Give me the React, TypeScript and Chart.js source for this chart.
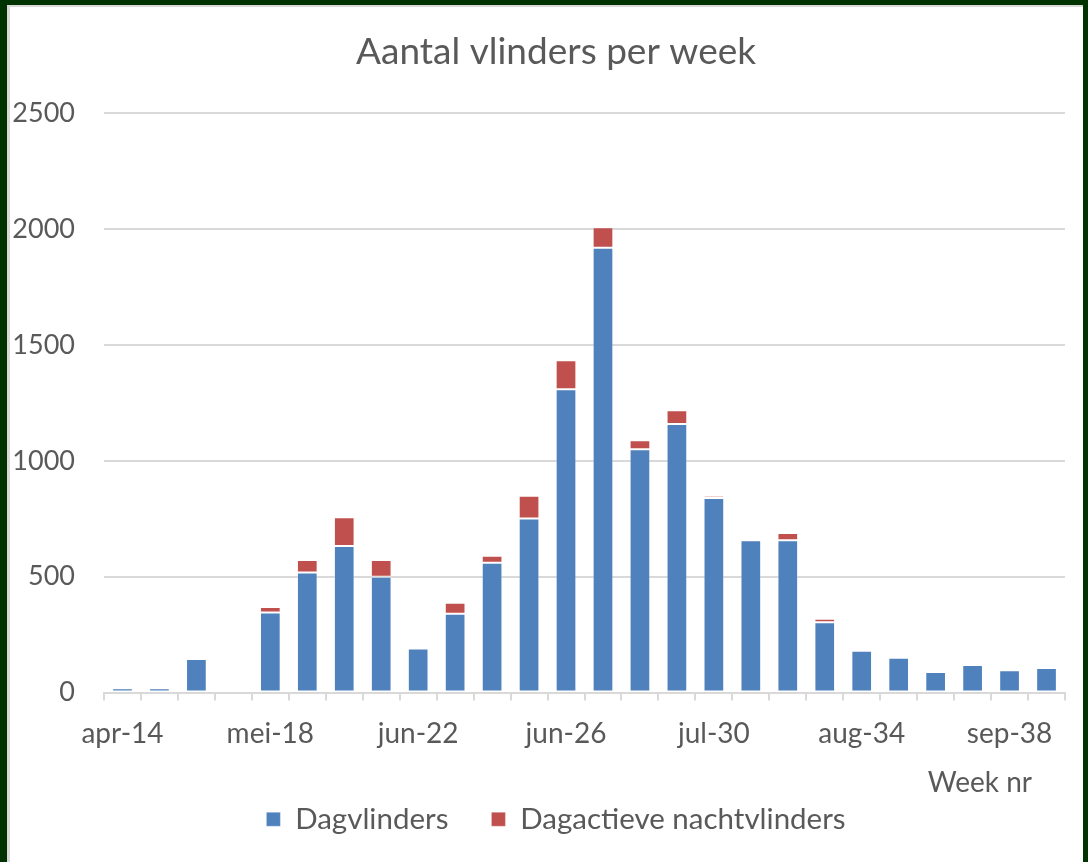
import React, { useEffect, useRef } from "react";
import { Chart, registerables } from "chart.js";

Chart.register(...registerables);

const weekLabels = [
  "apr-14", "apr-15", "apr-16", "apr-17",
  "mei-18", "mei-19", "mei-20", "mei-21",
  "jun-22", "jun-23", "jun-24", "jun-25", "jun-26",
  "jul-27", "jul-28", "jul-29", "jul-30",
  "aug-31", "aug-32", "aug-33", "aug-34",
  "sep-35", "sep-36", "sep-37", "sep-38", "sep-39",
];

const dagvlinders = [18, 18, 145, 0, 345, 518, 632, 500, 190, 340, 560, 751, 1309, 1920, 1050, 1159, 840, 657, 657, 303, 180, 150, 89, 119, 96, 106];
const nachtvlinders = [0, 0, 0, 0, 24, 54, 125, 72, 7, 47, 30, 98, 125, 89, 39, 59, 9, 6, 32, 15, 5, 0, 0, 6, 6, 6];

const yTicks = [0, 500, 1000, 1500, 2000, 2500];

const FONT = "Lato, 'Open Sans', sans-serif";
const TEXT = "#595959";

export default function App() {
  const ref = useRef<HTMLCanvasElement>(null);

  useEffect(() => {
    document.body.style.margin = "0";
    const canvas = ref.current;
    if (!canvas) return;

    const weekNrPlugin = {
      id: "weekNr",
      afterDraw(chart: any) {
        const x = chart.scales.x;
        const ctx = chart.ctx;
        ctx.save();
        ctx.font = `28px ${FONT}`;
        ctx.fillStyle = TEXT;
        ctx.textAlign = "right";
        ctx.textBaseline = "middle";
        ctx.fillText("Week nr", chart.chartArea.right - 33, x.bottom + 21);
        ctx.restore();
      },
    };

    const chart = new Chart(canvas, {
      type: "bar",
      data: {
        labels: weekLabels,
        datasets: [
          {
            label: "Dagvlinders",
            data: dagvlinders,
            backgroundColor: "#4F81BD",
            borderColor: "rgba(255,255,255,0.3)",
            borderWidth: 1,
            borderSkipped: false,
          },
          {
            label: "Dagactieve nachtvlinders",
            data: nachtvlinders,
            backgroundColor: "#C0504D",
            borderColor: "rgba(255,255,255,0.3)",
            borderWidth: 1,
            borderSkipped: false,
          },
        ],
      },
      options: {
        animation: false,
        responsive: false,
        maintainAspectRatio: false,
        layout: { padding: { left: 0, right: 0, top: 30, bottom: 18 } },
        datasets: {
          bar: { categoryPercentage: 1, barPercentage: 0.56 },
        },
        plugins: {
          title: {
            display: true,
            text: "Aantal vlinders per week",
            color: TEXT,
            font: { family: FONT, size: 37, weight: "normal" },
            padding: { top: 0, bottom: 39 },
          },
          legend: {
            position: "bottom",
            labels: {
              color: TEXT,
              font: { family: FONT, size: 29.5 },
              boxWidth: 14,
              boxHeight: 14,
              padding: 43,
              useBorderRadius: false,
            },
          },
          tooltip: { enabled: false },
        },
        scales: {
          x: {
            stacked: true,
            afterFit: (scale: any) => {
              scale.height = 69;
            },
            grid: {
              offset: true,
              drawOnChartArea: false,
              drawTicks: true,
              tickLength: 8,
              color: "#D9D9D9",
              lineWidth: 2,
            },
            border: { color: "#D9D9D9", width: 2 },
            ticks: {
              autoSkip: false,
              maxRotation: 0,
              minRotation: 0,
              padding: 17,
              color: TEXT,
              font: { family: FONT, size: 28 },
              callback: (_v: any, i: number) => (i % 4 === 0 ? weekLabels[i] : ""),
            },
          },
          y: {
            stacked: true,
            min: 0,
            max: 2500,
            afterBuildTicks: (axis: any) => {
              axis.ticks = yTicks.map((v) => ({ value: v }));
            },
            afterFit: (scale: any) => {
              scale.width = 104;
            },
            grid: { color: "#D9D9D9", lineWidth: 2, drawTicks: false },
            border: { display: false },
            ticks: {
              padding: 29,
              color: TEXT,
              font: { family: FONT, size: 27 },
              callback: (v: any) => String(v),
            },
          },
          spacer: {
            type: "linear",
            position: "right",
            display: true,
            grid: { display: false, drawTicks: false },
            border: { display: false },
            ticks: { display: false },
            afterFit: (scale: any) => {
              scale.width = 47;
            },
          },
        },
      },
      plugins: [weekNrPlugin],
    });
    return () => chart.destroy();
  }, []);

  return (
    <div style={{ position: "relative", width: 1088, height: 862, background: "#003300", overflow: "hidden" }}>
      <div
        style={{
          position: "absolute",
          left: 7,
          top: 5,
          width: 1076,
          height: 857,
          background: "#ffffff",
          boxSizing: "border-box",
          borderLeft: "3px solid #d9d9d9",
          borderTop: "2px solid #d9d9d9",
        }}
      />
      <canvas ref={ref} width={1112} height={862} style={{ position: "absolute", left: 0, top: 0, display: "block" }} />
    </div>
  );
}
